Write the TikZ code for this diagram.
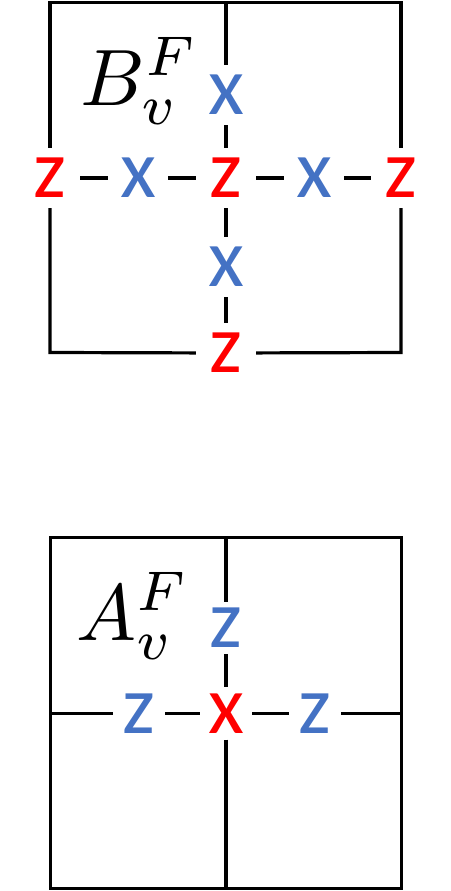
\documentclass[tikz,border=0pt]{standalone}
\usepackage{fontspec}
\newfontfamily\paulifont{Carlito}
\definecolor{pred}{RGB}{255,0,0}
\definecolor{pblue}{RGB}{68,114,196}
\tikzset{
  op/.style={inner sep=0pt, font=\paulifont\fontsize{83}{83}\selectfont},
  optop/.style={op, minimum width=60pt, minimum height=60pt},
  opbot/.style={op, minimum width=52pt, minimum height=52pt},
  redop/.style={text=pred},
  blueop/.style={text=pblue},
  gridline/.style={line width=3.2pt, black},
  lbl/.style={anchor=base west, inner sep=0pt, scale=8}
}
\begin{document}
\begin{tikzpicture}[x=1pt,y=-1pt]
\useasboundingbox (0,0) rectangle (450,891);
% ---------- top: B_v^F ----------
\coordinate (tl) at (50,2.5);
\coordinate (tr) at (401,2.5);
\coordinate (bl) at (50,352.5);
\coordinate (br) at (401,352.5);
\coordinate (tm) at (226,2.5);
\node[optop,redop]  (tz1) at (50,178) {z};
\node[optop,blueop] (tx1) at (138,178) {x};
\node[optop,redop]  (tzc) at (226,178) {z};
\node[optop,blueop] (tx2) at (314,178) {x};
\node[optop,redop]  (tz2) at (401,178) {z};
\node[optop,blueop] (txt) at (226,95) {x};
\node[optop,blueop] (txb) at (226,267) {x};
\node[optop,redop]  (tzb) at (226,353) {z};
\draw[gridline] (tz1) -- (tl) -- (tr) -- (tz2);
\draw[gridline] (tz1) -- (bl) -- (tzb);
\draw[gridline] (tzb) -- (br) -- (tz2);
\draw[gridline] (tm) -- (txt);
\draw[gridline] (txt) -- (tzc);
\draw[gridline] (tzc) -- (txb);
\draw[gridline] (txb) -- (tzb);
\draw[gridline] (tz1) -- (tx1);
\draw[gridline] (tx1) -- (tzc);
\draw[gridline] (tzc) -- (tx2);
\draw[gridline] (tx2) -- (tz2);
\node[lbl] (blabel) at (79,105) {$B_v^F$};
% ---------- bottom: A_v^F ----------
\coordinate (Btl) at (50.5,537.5);
\coordinate (Btr) at (401.5,537.5);
\coordinate (Bbl) at (50.5,888.5);
\coordinate (Bbr) at (401.5,888.5);
\coordinate (Btm) at (226,537.5);
\coordinate (Bbm) at (226,888.5);
\coordinate (Blm) at (50.5,713.5);
\coordinate (Brm) at (401.5,713.5);
\draw[gridline] (Btl) rectangle (Bbr);
\node[opbot,blueop] (bzt) at (226,628) {z};
\node[opbot,blueop] (bzl) at (139,713.5) {z};
\node[opbot,redop]  (bx)  at (226,713.5) {x};
\node[opbot,blueop] (bzr) at (315,713.5) {z};
\draw[gridline] (Btm) -- (bzt);
\draw[gridline] (bzt) -- (bx);
\draw[gridline] (bx) -- (Bbm);
\draw[gridline] (Blm) -- (bzl);
\draw[gridline] (bzl) -- (bx);
\draw[gridline] (bx) -- (bzr);
\draw[gridline] (bzr) -- (Brm);
\node[lbl] (alabel) at (75,640) {$A_v^F$};
\end{tikzpicture}
\end{document}
